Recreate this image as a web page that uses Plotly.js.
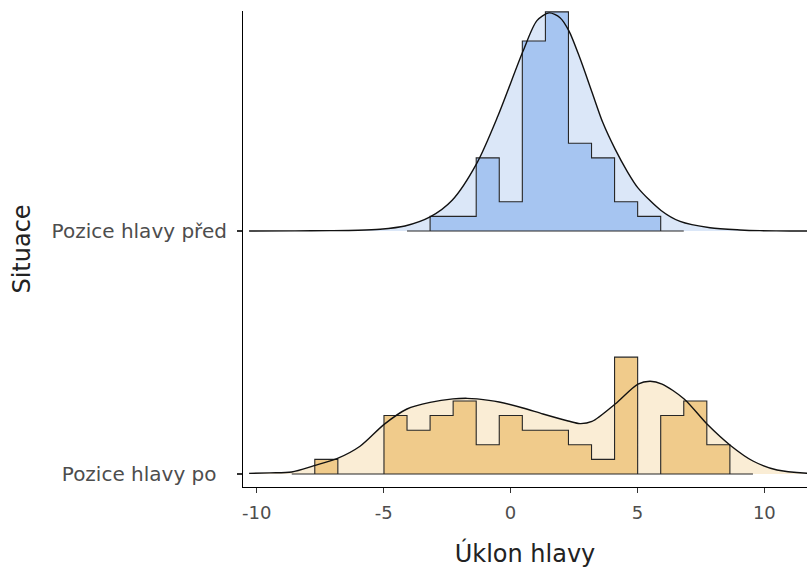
<!DOCTYPE html>
<html>
<head>
<meta charset="utf-8">
<script src="https://cdn.plot.ly/plotly-3.0.1.min.js"></script>
<style>html,body{margin:0;padding:0;background:#fff}</style>
</head>
<body>
<div id="chart" style="width:807px;height:568px"></div>
<script>
// Ridge categories (bottom to top) and their y positions
const situations = ['Pozice hlavy po\u00a0\u2009', 'Pozice hlavy před'];
const ridgeBase = [1, 2];

// Shared histogram bin edges (Úklon hlavy)
const binEdges = [-8.620, -7.712, -6.803, -5.895, -4.986, -4.078, -3.169, -2.261, -1.352, -0.444,
                  0.465, 1.374, 2.282, 3.191, 4.099, 5.008, 5.916, 6.825, 7.733, 8.642, 9.550];

// Counts per bin
const countsPo   = [0, 1, 0, 0, 4, 3, 4, 5, 2, 4, 3, 3, 2, 1, 8, 0, 4, 5, 2, 0];
const countsPred = [0, 0, 0, 0, 0, 0, 1, 1, 5, 2, 13, 15, 6, 5, 2, 1, 0, 0, 0, 0];

// Kernel density curves, expressed in the same height units as the counts
const densPoX = [-10.3, -9.48, -8.62, -7.74, -6.84, -5.93, -4.98, -4.08, -3.17, -2.27, -1.71, -1.32, -0.45,
                 0.49, 1.28, 2.27, 2.74, 3.21, 4.12, 5.02, 5.50, 5.97, 6.84, 7.74, 8.69, 9.55, 10.50, 11.68, 12.5];
const densPoH = [0.04, 0.08, 0.14, 0.57, 1.05, 1.9, 3.4, 4.45, 4.9, 5.14, 5.18, 5.14, 4.93,
                 4.52, 4.11, 3.63, 3.45, 3.6, 4.79, 6.16, 6.35, 6.16, 5.14, 3.42, 1.92, 0.89, 0.27, 0.05, 0.02];

const densPredX = [-10.3, -8.5, -7.1, -6.0, -5.14, -4.16, -3.17, -2.30, -1.32, -0.49, 0.49, 1.04, 1.52,
                   1.95, 2.30, 2.74, 3.21, 3.64, 4.12, 4.59, 5.02, 5.93, 6.68, 7.86, 9.04, 9.83, 11.0, 12.5];
const densPredH = [0.0, 0.005, 0.02, 0.05, 0.12, 0.34, 0.96, 2.1, 4.66, 7.9, 12.3, 14.4, 14.93,
                   14.6, 13.7, 11.8, 9.5, 7.4, 5.6, 4.1, 2.95, 1.4, 0.65, 0.22, 0.07, 0.02, 0.0, 0.0];

const xTicks = [-10, -5, 0, 5, 10];

// Style
const heightScale = 0.0601;            // y units per count
const fillDark  = ['#f0cb8b', '#a6c5f1'];
const fillLight = ['#faedd5', '#dbe7f8'];
const FONT = 'DejaVu Sans, Liberation Sans, Arial, sans-serif';

function stepOutline(counts, base) {
  let first = counts.findIndex(c => c > 0);
  let last = counts.length - 1 - [...counts].reverse().findIndex(c => c > 0);
  const lo = Math.max(0, first - 1), hi = Math.min(counts.length - 1, last + 1);
  const xs = [binEdges[lo]], ys = [base];
  for (let i = lo; i <= hi; i++) {
    const top = base + counts[i] * heightScale;
    xs.push(binEdges[i], binEdges[i + 1]);
    ys.push(top, top);
  }
  xs.push(binEdges[hi + 1], binEdges[lo]);
  ys.push(base, base);
  return {xs, ys};
}

const traces = [];
const groups = [
  {counts: countsPo, dx: densPoX, dh: densPoH},
  {counts: countsPred, dx: densPredX, dh: densPredH}
];
groups.forEach((g, gi) => {
  const base = ridgeBase[gi];
  const dy = g.dh.map(h => base + h * heightScale);
  // baseline for the density fill
  traces.push({x: [g.dx[0], g.dx[g.dx.length - 1]], y: [base, base], mode: 'lines',
               line: {width: 0, color: 'rgba(0,0,0,0)'}, hoverinfo: 'skip', showlegend: false});
  traces.push({x: g.dx, y: dy, mode: 'lines', fill: 'tonexty', fillcolor: fillLight[gi],
               line: {width: 0, shape: 'spline', smoothing: 0.8, color: 'rgba(0,0,0,0)'},
               hoverinfo: 'skip', showlegend: false});
  const st = stepOutline(g.counts, base);
  traces.push({x: st.xs, y: st.ys, mode: 'lines', fill: 'toself', fillcolor: fillDark[gi],
               line: {width: 1.1, color: '#262626'}, hoverinfo: 'skip', showlegend: false});
  traces.push({x: g.dx, y: dy, mode: 'lines',
               line: {width: 1.4, shape: 'spline', smoothing: 0.8, color: '#111'},
               hoverinfo: 'skip', showlegend: false});
});

const layout = {
  width: 807, height: 568,
  margin: {l: 243, r: 0, t: 11, b: 81},
  paper_bgcolor: '#fff', plot_bgcolor: '#fff',
  showlegend: false,
  font: {family: FONT, color: '#4d4d4d'},
  xaxis: {
    range: [-10.54, 11.68], tickvals: xTicks, ticktext: xTicks.map(String),
    showgrid: false, zeroline: false, showline: true, linecolor: '#000', linewidth: 1.1,
    ticks: 'outside', ticklen: 5, tickwidth: 1.1, tickcolor: '#333', ticklabelstandoff: 4,
    tickfont: {size: 18, color: '#4d4d4d', family: FONT},
    title: {text: 'Úklon hlavy', font: {size: 24, color: '#222', family: FONT}, standoff: 23}
  },
  yaxis: {
    range: [0.9465, 2.905], tickvals: ridgeBase, ticktext: situations,
    showgrid: false, zeroline: false, showline: true, linecolor: '#000', linewidth: 1.1,
    ticks: 'outside', ticklen: 5, tickwidth: 1.1, tickcolor: '#333', ticklabelstandoff: 6,
    tickfont: {size: 20, color: '#4d4d4d', family: FONT},
    title: {text: 'Situace', font: {size: 24, color: '#222', family: FONT}, standoff: 14}
  }
};

Plotly.newPlot('chart', traces, layout, {displayModeBar: false, staticPlot: true});
</script>
</body>
</html>
